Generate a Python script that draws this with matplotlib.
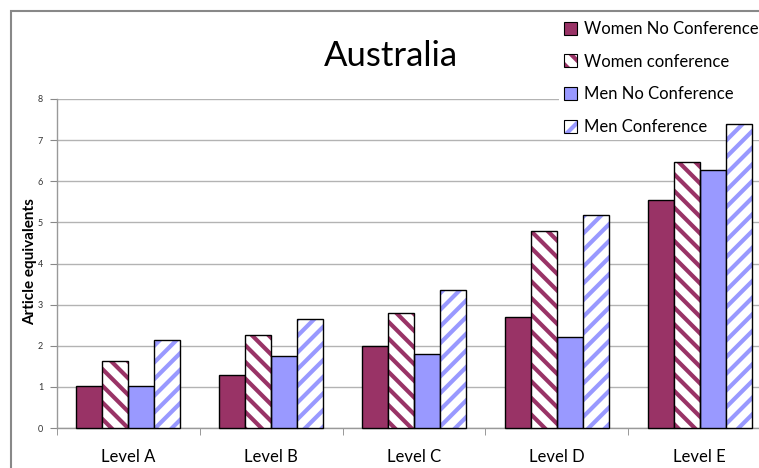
import matplotlib
matplotlib.use("Agg")
import matplotlib.pyplot as plt
import matplotlib.patches as mpatches
import numpy as np

plt.rcParams['font.family'] = ['Lato', 'DejaVu Sans']
plt.rcParams['hatch.linewidth'] = 3.0

levels = ["Level A", "Level B", "Level C", "Level D", "Level E"]
series_names = ["Women No Conference", "Women conference",
                "Men No Conference", "Men Conference"]
women_no_conf = [1.03, 1.30, 2.00, 2.70, 5.55]
women_conf = [1.63, 2.25, 2.80, 4.80, 6.48]
men_no_conf = [1.03, 1.75, 1.80, 2.22, 6.28]
men_conf = [2.13, 2.65, 3.35, 5.17, 7.38]
y_ticks = [0, 1, 2, 3, 4, 5, 6, 7, 8]

plum = "#993366"
lilac = "#9999FF"
styles = [
    dict(face=plum, hatch=None),
    dict(face="white", hatch="\\\\", hcolor=plum),
    dict(face=lilac, hatch=None),
    dict(face="white", hatch="//", hcolor=lilac),
]
values = [women_no_conf, women_conf, men_no_conf, men_conf]

W, H = 759, 468
fig = plt.figure(figsize=(W / 100, H / 100), dpi=100)

# outer chart frame
fig.patches.append(mpatches.Rectangle((11 / W, -0.1), 1.2, 1 - 11 / H + 0.1,
                                      transform=fig.transFigure, fill=False,
                                      edgecolor="#888888", linewidth=1.5))

left, right = 57 / W, 771 / W
bottom, top = 1 - 428 / H, 1 - 99 / H
ax = fig.add_axes([left, bottom, right - left, top - bottom])

x = np.arange(len(levels))
bw = 26 / 142.7
offsets = (np.arange(4) - 1.5) * bw
for vals, st, off in zip(values, styles, offsets):
    if st["hatch"] is None:
        ax.bar(x + off, vals, bw, color=st["face"], edgecolor="black",
               linewidth=1.0, zorder=3, clip_on=False)
    else:
        ax.bar(x + off, vals, bw, color="white", edgecolor=st["hcolor"],
               hatch=st["hatch"], linewidth=0, zorder=3, clip_on=False)
        ax.bar(x + off, vals, bw, fill=False, edgecolor="black",
               linewidth=1.0, zorder=3.1, clip_on=False)

ax.set_xlim(-0.5, len(levels) - 0.5)
ax.set_ylim(0, 8)
ax.set_yticks(y_ticks)
ax.tick_params(axis="y", labelsize=6.5, length=5, color="#888888", pad=5,
               labelcolor="#333333")
ax.set_xticks(x)
ax.set_xticklabels(levels, fontsize=12)
ax.set_xticks(np.arange(len(levels) + 1) - 0.5, minor=True)
ax.tick_params(axis="x", which="major", length=0, pad=15)
ax.tick_params(axis="x", which="minor", length=5, color="#888888")
ax.yaxis.grid(True, color="#b3b3b3", linewidth=1.0, zorder=0)
ax.set_axisbelow(True)
for s in ["top", "right"]:
    ax.spines[s].set_visible(False)
for s in ["left", "bottom"]:
    ax.spines[s].set_color("#999999")
    ax.spines[s].set_linewidth(1.0)

fig.text(30 / W, 1 - 262 / H, "Article equivalents", fontsize=11,
         fontweight="bold", rotation=90, ha="center", va="center")

fig.text(391 / W, 1 - 56 / H, "Australia", fontsize=25, ha="center",
         va="center")

handles = []
for st, name in zip(styles, series_names):
    if st["hatch"] is None:
        handles.append(mpatches.Patch(facecolor=st["face"], edgecolor="black",
                                      linewidth=0.8))
    else:
        handles.append((mpatches.Patch(facecolor="white", edgecolor=st["hcolor"],
                                       hatch=st["hatch"], linewidth=0),
                        mpatches.Patch(fill=False, edgecolor="black",
                                       linewidth=0.8)))
leg = ax.legend(handles=handles, labels=series_names, loc="upper left",
                bbox_to_anchor=(559 / W, 1 - 16 / H),
                bbox_transform=fig.transFigure, frameon=True,
                fontsize=12, handlelength=0.8, handleheight=0.8,
                handletextpad=0.4, labelspacing=1.0, borderpad=0.3,
                borderaxespad=0)
leg.get_frame().set_edgecolor("none")
leg.get_frame().set_facecolor("white")
leg.get_frame().set_alpha(1)
leg.set_zorder(2.5)

fig.savefig("out.png", dpi=100)
